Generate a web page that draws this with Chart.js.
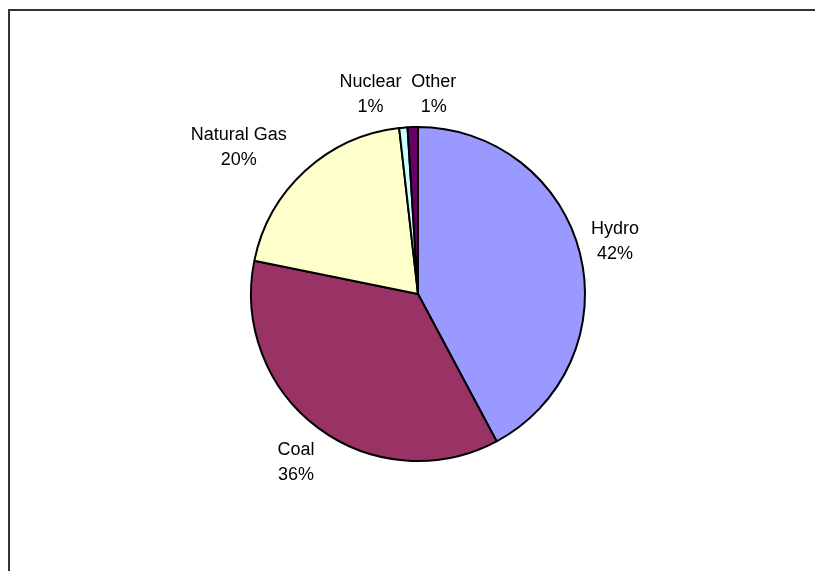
<!DOCTYPE html>
<html>
<head>
<meta charset="utf-8">
<script src="https://cdn.jsdelivr.net/npm/chart.js@4"></script>
<style>
  html, body { margin: 0; padding: 0; background: #fff; }
  #wrap { width: 815px; height: 571px; }
</style>
</head>
<body>
<div id="wrap"><canvas id="pieChart" width="815" height="571"></canvas></div>
<script>
const sources = ["Hydro", "Coal", "Natural Gas", "Nuclear", "Other"];
const shares = [42.2, 36.0, 20.0, 0.8, 1.0];
const sliceColors = ["#9999FF", "#993366", "#FFFFCC", "#CCFFFF", "#660066"];

// small nudges so the outside labels sit where they read best
const labelNudge = [[0, -4], [-4, 9], [-26, 0], [-29, -1], [22, -1]];

const frame = {
  id: "frame",
  beforeDraw(chart) {
    const c = chart.ctx;
    c.save();
    c.fillStyle = "#ffffff";
    c.fillRect(0, 0, chart.width, chart.height);
    c.strokeStyle = "#333333";
    c.lineWidth = 2;
    c.beginPath();
    c.moveTo(9, chart.height);
    c.lineTo(9, 10);
    c.lineTo(chart.width, 10);
    c.stroke();
    c.restore();
  },
};

const sliceLabels = {
  id: "sliceLabels",
  afterDatasetsDraw(chart) {
    const c = chart.ctx;
    const meta = chart.getDatasetMeta(0);
    const values = chart.data.datasets[0].data;
    const total = values.reduce((a, b) => a + b, 0);
    c.save();
    c.font = "18px 'Liberation Sans', Arial, sans-serif";
    c.fillStyle = "#000";
    c.textAlign = "center";
    c.textBaseline = "middle";
    const lineGap = 25;
    meta.data.forEach((arc, i) => {
      const p = arc.getProps(["x", "y", "startAngle", "endAngle", "outerRadius"], true);
      const mid = (p.startAngle + p.endAngle) / 2;
      const dx = Math.cos(mid), dy = Math.sin(mid);
      const name = chart.data.labels[i];
      const pct = Math.round(values[i] / total * 100) + "%";
      const w = Math.max(c.measureText(name).width, c.measureText(pct).width);
      const h = 40;
      const r = p.outerRadius + 12;
      const cx = p.x + dx * r + dx * w / 2 + labelNudge[i][0];
      const cy = p.y + dy * r + dy * h / 2 + labelNudge[i][1];
      c.fillText(name, cx, cy - lineGap / 2);
      c.fillText(pct, cx, cy + lineGap / 2);
    });
    c.restore();
  },
};

new Chart(document.getElementById("pieChart").getContext("2d"), {
  type: "pie",
  data: {
    labels: sources,
    datasets: [
      {
        data: shares,
        backgroundColor: sliceColors,
        borderColor: "#000000",
        borderWidth: 2,
      },
    ],
  },
  options: {
    responsive: false,
    animation: false,
    layout: { padding: { top: 126, bottom: 109, left: 21, right: 0 } },
    plugins: {
      legend: { display: false },
      tooltip: { enabled: false },
    },
  },
  plugins: [frame, sliceLabels],
});
</script>
</body>
</html>
